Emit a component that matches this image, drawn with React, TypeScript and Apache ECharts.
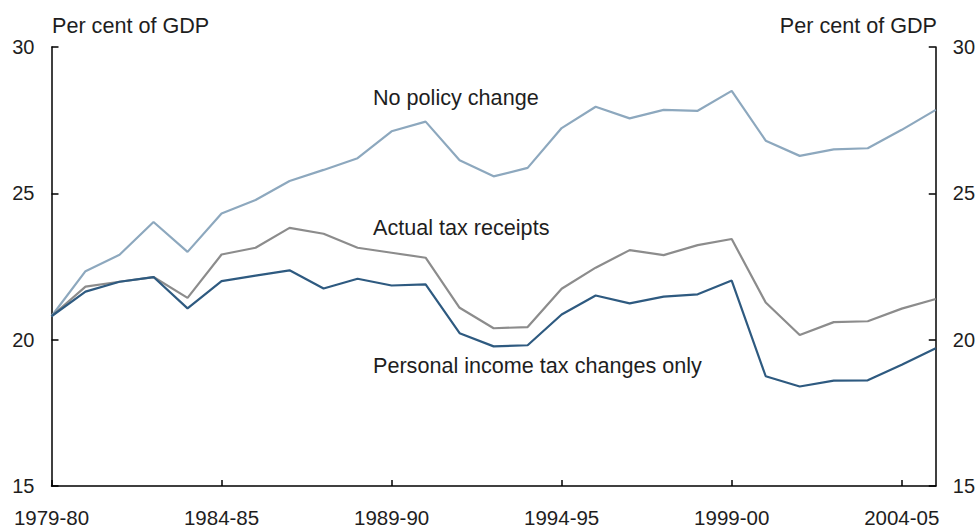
import React, { useEffect, useRef } from "react";
import * as echarts from "echarts";

const years = [
  "1979-80", "1980-81", "1981-82", "1982-83", "1983-84", "1984-85", "1985-86",
  "1986-87", "1987-88", "1988-89", "1989-90", "1990-91", "1991-92", "1992-93",
  "1993-94", "1994-95", "1995-96", "1996-97", "1997-98", "1998-99", "1999-00",
  "2000-01", "2001-02", "2002-03", "2003-04", "2004-05", "2005-06",
];

const noPolicyChange = [
  20.8, 22.34, 22.9, 24.02, 23.0, 24.31, 24.77, 25.42, 25.8, 26.2, 27.12, 27.45,
  26.13, 25.58, 25.87, 27.23, 27.96, 27.56, 27.85, 27.82, 28.5, 26.8, 26.28, 26.5,
  26.54, 27.17, 27.85,
];

const actualTaxReceipts = [
  20.8, 21.81, 21.98, 22.14, 21.43, 22.91, 23.14, 23.82, 23.62, 23.14, 22.97, 22.8,
  21.09, 20.39, 20.43, 21.74, 22.46, 23.06, 22.89, 23.23, 23.44, 21.27, 20.16, 20.6,
  20.63, 21.06, 21.39,
];

const personalIncomeTaxOnly = [
  20.8, 21.64, 21.98, 22.14, 21.07, 22.0, 22.19, 22.37, 21.75, 22.08, 21.85, 21.89,
  20.22, 19.77, 19.81, 20.86, 21.51, 21.24, 21.47, 21.55, 22.02, 18.75, 18.4, 18.6,
  18.61, 19.14, 19.71,
];

const seriesNames = ["No policy change", "Actual tax receipts", "Personal income tax changes only"];
const axisUnit = "Per cent of GDP";

const FONT = "'Liberation Sans', Arial, sans-serif";
const TXT = "#1e1e1e";

export default function App() {
  const ref = useRef<HTMLDivElement>(null);
  useEffect(() => {
    if (!ref.current) return;
    const chart = echarts.init(ref.current, undefined, { renderer: "svg" });
    const yAxisCommon = {
      type: "value" as const,
      min: 15,
      max: 30,
      interval: 5,
      splitLine: { show: false },
      axisLine: { show: true, lineStyle: { color: "#000", width: 1.5 } },
      axisTick: { show: true, inside: true, length: 7, lineStyle: { color: "#000", width: 1.5 } },
      axisLabel: { color: TXT, fontSize: 20, fontFamily: FONT, margin: 17 },
    };
    chart.setOption({
      animation: false,
      backgroundColor: "#fff",
      grid: { left: 51.5, right: 41.3, top: 47, bottom: 41, containLabel: false },
      xAxis: {
        type: "category",
        data: years,
        boundaryGap: false,
        axisLine: { show: true, lineStyle: { color: "#000", width: 1.5 } },
        axisTick: { show: true, inside: true, length: 6, interval: 4, lineStyle: { color: "#000", width: 1.5 } },
        axisLabel: { interval: 4, color: TXT, fontSize: 20.5, fontFamily: FONT, margin: 21 },
        splitLine: { show: false },
      },
      yAxis: [
        { ...yAxisCommon, position: "left" },
        { ...yAxisCommon, position: "right" },
      ],
      series: [
        {
          name: seriesNames[0],
          type: "line",
          data: noPolicyChange,
          symbol: "none",
          lineStyle: { color: "#8DA8BE", width: 2.2 },
          itemStyle: { color: "#8DA8BE" },
          z: 2,
        },
        {
          name: seriesNames[1],
          type: "line",
          data: actualTaxReceipts,
          symbol: "none",
          lineStyle: { color: "#8C8C8C", width: 2.2 },
          itemStyle: { color: "#8C8C8C" },
          z: 3,
        },
        {
          name: seriesNames[2],
          type: "line",
          data: personalIncomeTaxOnly,
          symbol: "none",
          lineStyle: { color: "#2E5A80", width: 2.2 },
          itemStyle: { color: "#2E5A80" },
          z: 4,
        },
      ],
      graphic: [
        { type: "text", left: 52, top: 14, style: { text: axisUnit, fontSize: 21.6, fontFamily: FONT, fill: TXT } },
        { type: "text", right: 41, top: 14, style: { text: axisUnit, fontSize: 21.6, fontFamily: FONT, fill: TXT } },
        { type: "text", left: 373, top: 86, style: { text: seriesNames[0], fontSize: 21.6, fontFamily: FONT, fill: TXT } },
        { type: "text", left: 373, top: 216, style: { text: seriesNames[1], fontSize: 21.6, fontFamily: FONT, fill: TXT } },
        { type: "text", left: 373, top: 354, style: { text: seriesNames[2], fontSize: 21.6, fontFamily: FONT, fill: TXT } },
      ],
    });
    return () => chart.dispose();
  }, []);
  return <div ref={ref} style={{ width: 978, height: 528, position: "absolute", left: 0, top: 0 }} />;
}
